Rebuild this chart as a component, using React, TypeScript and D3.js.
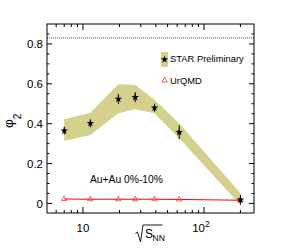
import React from "react";
import * as d3 from "d3";

// beam energies (GeV)
const energies = [7.0, 11.5, 19.6, 27, 39, 62.4, 200];
const starPhi2 = [0.365, 0.402, 0.524, 0.533, 0.48, 0.357, 0.018];
const starErr = [0.02, 0.02, 0.025, 0.025, 0.02, 0.035, 0.025];
const sysLow = [0.313, 0.343, 0.452, 0.472, 0.452, 0.327, -0.008];
const sysHigh = [0.422, 0.455, 0.598, 0.594, 0.52, 0.402, 0.051];
const urqmdPhi2 = [0.022, 0.021, 0.021, 0.021, 0.021, 0.02, 0.016];

const yMajor = [0, 0.2, 0.4, 0.6, 0.8];
const yTickLabels = ["0", "0.2", "0.4", "0.6", "0.8"];
const xMajor = [10, 100];
const xMinor = [6, 7, 8, 9, 20, 30, 40, 50, 60, 70, 80, 90, 200];
const refLine = 0.83;

const W = 284;
const H = 249;
const frame = { left: 47, right: 254, top: 24, bottom: 213 };
const font = "'Liberation Sans', Arial, Helvetica, sans-serif";
const bandColor = "#d5d18d";

const App = () => {
  const x = d3.scaleLog().domain([5.04, 259]).range([frame.left, frame.right]);
  const y = d3.scaleLinear().domain([-0.048, 0.9]).range([frame.bottom, frame.top]);

  const yMinor = d3.range(0, 0.9, 0.05).filter((v) => !yMajor.some((m) => Math.abs(m - v) < 1e-6));

  const band = d3
    .area<number>()
    .x((_, i) => x(energies[i]))
    .y0((_, i) => y(sysLow[i]))
    .y1((_, i) => y(sysHigh[i]))(energies);

  const urLine = d3
    .line<number>()
    .x((_, i) => x(energies[i]))
    .y((_, i) => y(urqmdPhi2[i]))(energies);

  const star = d3.symbol().type(d3.symbolStar).size(18)();
  const tri = d3.symbol().type(d3.symbolTriangle).size(13)();

  return (
    <svg
      width={W}
      height={H}
      style={{ position: "absolute", left: 0, top: 0, background: "#fff" }}
      fontFamily={font}
    >
      {/* systematic band */}
      <path d={band ?? ""} fill={bandColor} />

      {/* reference dotted line */}
      <line
        x1={frame.left}
        x2={frame.right}
        y1={y(refLine)}
        y2={y(refLine)}
        stroke="#444"
        strokeDasharray="1,1"
      />

      {/* UrQMD */}
      <path d={urLine ?? ""} fill="none" stroke="#f00" strokeWidth={1} />
      {energies.map((e, i) => (
        <path
          key={"u" + i}
          d={tri ?? ""}
          transform={`translate(${x(e)},${y(urqmdPhi2[i])})`}
          fill="none"
          stroke="#f44"
          strokeWidth={0.9}
        />
      ))}

      {/* STAR data */}
      {energies.map((e, i) => (
        <g key={"s" + i}>
          <line
            x1={x(e)}
            x2={x(e)}
            y1={y(starPhi2[i] - starErr[i])}
            y2={y(starPhi2[i] + starErr[i])}
            stroke="#000"
            strokeWidth={1}
          />
          <path d={star ?? ""} transform={`translate(${x(e)},${y(starPhi2[i])})`} fill="#000" />
        </g>
      ))}

      {/* frame */}
      <rect
        x={frame.left}
        y={frame.top}
        width={frame.right - frame.left}
        height={frame.bottom - frame.top}
        fill="none"
        stroke="#000"
        strokeWidth={1}
      />

      {/* y ticks */}
      {yMajor.map((v) => (
        <g key={"ym" + v}>
          <line x1={frame.left} x2={frame.left + 5} y1={y(v)} y2={y(v)} stroke="#000" />
          <line x1={frame.right} x2={frame.right - 5} y1={y(v)} y2={y(v)} stroke="#000" />
        </g>
      ))}
      {yMinor.map((v) => (
        <g key={"yn" + v}>
          <line x1={frame.left} x2={frame.left + 2.5} y1={y(v)} y2={y(v)} stroke="#000" />
          <line x1={frame.right} x2={frame.right - 2.5} y1={y(v)} y2={y(v)} stroke="#000" />
        </g>
      ))}
      {yMajor.map((v, i) => (
        <text key={"yl" + v} x={43} y={y(v) + 4.2} fontSize={11.5} textAnchor="end">
          {yTickLabels[i]}
        </text>
      ))}

      {/* x ticks */}
      {xMajor.map((v) => (
        <g key={"xm" + v}>
          <line x1={x(v)} x2={x(v)} y1={frame.bottom} y2={frame.bottom - 6} stroke="#000" />
          <line x1={x(v)} x2={x(v)} y1={frame.top} y2={frame.top + 6} stroke="#000" />
        </g>
      ))}
      {xMinor.map((v) => (
        <g key={"xn" + v}>
          <line x1={x(v)} x2={x(v)} y1={frame.bottom} y2={frame.bottom - 3} stroke="#000" />
          <line x1={x(v)} x2={x(v)} y1={frame.top} y2={frame.top + 3} stroke="#000" />
        </g>
      ))}
      <text x={x(10)} y={232} fontSize={11.5} textAnchor="middle">
        10
      </text>
      <text x={x(100) - 3} y={232} fontSize={11.5} textAnchor="middle">
        10
        <tspan dy={-5} fontSize={8.5}>
          2
        </tspan>
      </text>

      {/* x title: sqrt(s_NN) */}
      <path
        d="M135.5,233.5 L137.5,232 L140.5,242 L143,225 L162.5,225"
        fill="none"
        stroke="#000"
        strokeWidth={0.9}
      />
      <text x={145} y={237.5} fontSize={12}>
        S
      </text>
      <text x={152.5} y={240.5} fontSize={8.5}>
        NN
      </text>

      {/* y title */}
      <g transform="translate(12.5,128) rotate(-90)">
        <text fontSize={13.5}>
          φ
          <tspan dy={8} fontSize={10}>
            2
          </tspan>
        </text>
      </g>

      {/* legend */}
      <rect x={161} y={52} width={7} height={15} fill={bandColor} />
      <path d={star ?? ""} transform="translate(164.5,59.5)" fill="#000" />
      <text x={170} y={62.3} fontSize={9.4}>
        STAR Preliminary
      </text>
      <path d={tri ?? ""} transform="translate(164.7,80.5)" fill="none" stroke="#f44" strokeWidth={0.9} />
      <text x={170} y={83.5} fontSize={9.4}>
        UrQMD
      </text>

      <text x={90} y={183.3} fontSize={10.3}>
        Au+Au 0%-10%
      </text>
    </svg>
  );
};

export default App;
